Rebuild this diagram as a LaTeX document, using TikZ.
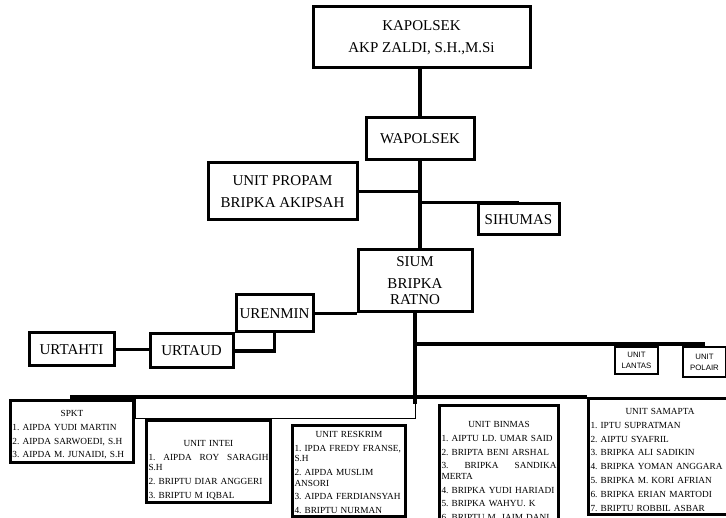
\documentclass[tikz,border=0pt]{standalone}
\usepackage{fontspec}
\setmainfont{Liberation Serif}
\newfontfamily\kecilsans{Liberation Sans}
\usetikzlibrary{positioning,calc}

\tikzset{
  kotak/.style={draw, line width=3pt, align=center, inner sep=2pt, font=\fontsize{15}{18}\selectfont},
  kotakkecil/.style={draw, line width=2.5pt, align=center, inner sep=1pt, font=\kecilsans\fontsize{7.8}{11}\selectfont},
  daftar/.style={draw, line width=3pt, anchor=north west, inner xsep=2pt, inner ysep=3pt, text width=#1, font=\fontsize{9.3}{10.5}\selectfont},
  garis/.style={line width=3.5pt},
  tipis/.style={line width=1pt}
}

% title line, then the members
\newcommand{\isiunit}[4]{\frenchspacing\parindent=0pt\parskip=3.3pt\centering\rule{0pt}{#1}#2\par\raggedright #3\par\vspace*{#4}}

\begin{document}
\begin{tikzpicture}[x=1pt,y=-1pt]
    \clip (0,0) rectangle (726,518);

    % pimpinan
    \node[kotak, minimum width=217pt, minimum height=61pt] (kapolsek) at (421.5,37.5) {KAPOLSEK\\[4pt]AKP ZALDI, S.H.,M.Si};
    \node[kotak, minimum width=108pt, minimum height=42pt] (wapolsek) at (420,139) {WAPOLSEK};
    \node[kotak, minimum width=149pt, minimum height=57pt] (propam) at (282.5,191.5) {UNIT PROPAM\\[4pt]BRIPKA AKIPSAH};
    \node[kotak, minimum width=81pt, minimum height=31pt] (sihumas) at (518.5,219.5) {SIHUMAS};
    \node[kotak, minimum width=114pt, minimum height=62pt] (sium) at (415,281) {SIUM\\[4pt]BRIPKA\\[-2pt]RATNO};

    % urusan
    \node[kotak, minimum width=77pt, minimum height=37pt] (urenmin) at (274.5,313.5) {URENMIN};
    \node[kotak, minimum width=83pt, minimum height=34pt] (urtaud) at (191.5,351) {URTAUD};
    \node[kotak, minimum width=85pt, minimum height=33pt] (urtahti) at (71.5,349.5) {URTAHTI};

    \node[kotakkecil, minimum width=43pt, minimum height=27pt] (lantas) at (636.5,360.5) {UNIT\\LANTAS};
    \node[kotakkecil, minimum width=43pt, minimum height=30pt] (polair) at (704.5,362) {UNIT\\POLAIR};

    % unit bawah
    \node[daftar=119pt] (spkt) at (9,399) {\isiunit{13pt}{SPKT}{1. AIPDA YUDI MARTIN\par 2. AIPDA SARWOEDI, S.H\par 3. AIPDA M. JUNAIDI, S.H}{5pt}};
    \node[daftar=120pt] (intei) at (145,419) {\isiunit{23pt}{UNIT INTEI}{1.\hfill AIPDA\hfill ROY\hfill SARAGIH\newline S.H\par 2. BRIPTU DIAR ANGGERI\par 3. BRIPTU M IQBAL}{30pt}};
    \node[daftar=109pt] (reskrim) at (291,424) {\isiunit{9pt}{UNIT RESKRIM}{1. IPDA FREDY FRANSE,\newline S.H\par 2. AIPDA MUSLIM\newline ANSORI\par 3. AIPDA FERDIANSYAH\par 4. BRIPTU NURMAN}{30pt}};
    \node[daftar=115pt] (binmas) at (438,404) {\isiunit{19pt}{UNIT BINMAS}{1. AIPTU LD. UMAR SAID\par 2. BRIPTA BENI ARSHAL\par 3.\hfill BRIPKA\hfill SANDIKA\newline MERTA\par 4. BRIPKA YUDI HARIADI\par 5. BRIPKA WAHYU. K\par 6. BRIPTU M. JAIM DANI}{20pt}};
    \node[daftar=139pt] (samapta) at (587,397) {\isiunit{13pt}{UNIT SAMAPTA}{1. IPTU SUPRATMAN\par 2. AIPTU SYAFRIL\par 3. BRIPKA ALI SADIKIN\par 4. BRIPKA YOMAN ANGGARA\par 5. BRIPKA M. KORI AFRIAN\par 6. BRIPKA ERIAN MARTODI\par 7. BRIPTU ROBBIL ASBAR}{0pt}};

    % garis komando
    \draw[garis] (kapolsek.south -| wapolsek.north) -- (wapolsek.north);
    \draw[garis] (wapolsek.south) -- (wapolsek.south |- sium.north);
    \draw[garis] (propam.east) -- (propam.east -| wapolsek.south);
    \draw[garis] (wapolsek.south |- sihumas.north) -- (sihumas.north);
    \draw[garis] (urenmin.east) -- (urenmin.east -| sium.west);
    \draw[garis] (urtaud.east) -| (urenmin.south);
    \draw[garis] (urtahti.east) -- (urtahti.east -| urtaud.west);
    \draw[garis] (sium.south) -- (sium.south |- binmas.north);
    \coordinate (cabang) at (415,344);
    \draw[garis] (cabang) -- (cabang -| polair.north);
    \coordinate (buskiri) at (70,397);
    \draw[garis] (buskiri) -- (buskiri -| sium.south) -- (samapta.north west);
    \draw[tipis] (spkt.north east) rectangle (sium.south |- intei.north);
\end{tikzpicture}
\end{document}
